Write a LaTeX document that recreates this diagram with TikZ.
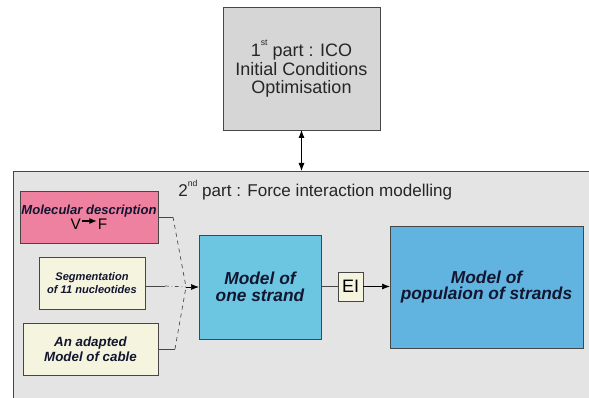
\documentclass[tikz,border=0pt]{standalone}
\usepackage{fontspec}
\setmainfont{Liberation Sans}
\usetikzlibrary{arrows.meta}
\definecolor{topgray}{RGB}{214,214,214}
\definecolor{contgray}{RGB}{228,228,228}
\definecolor{pinkbox}{RGB}{238,128,160}
\definecolor{creambox}{RGB}{245,244,222}
\definecolor{bluebox}{RGB}{108,198,226}
\definecolor{popblue}{RGB}{98,180,224}
\definecolor{navytext}{RGB}{18,22,48}
\definecolor{edge}{RGB}{70,70,70}
\newcommand\supx[1]{\raisebox{0.62em}{\fontsize{6.5}{6.5}\selectfont #1}}
\newcommand\vfarrow{\raisebox{0.33em}{\tikz[x=1pt,y=1pt]\draw[line width=0.8pt,-{Latex[length=5.5pt,width=4.5pt]}] (0,0) -- (11,0);}}
\tikzset{
  box/.style={draw=edge, line width=0.7pt, inner sep=0pt, outer sep=0pt, align=center},
  conn/.style={draw=edge, line width=0.5pt},
  tip/.style={-{Latex[length=6pt,width=4.5pt]}},
  bi/.style={font=\bfseries\itshape, text=navytext},
}
\begin{document}
\begin{tikzpicture}[x=0.75pt,y=-0.75pt]
\useasboundingbox (0,0) rectangle (589,398);
\fill[white] (0,0) rectangle (589,398);
\begin{scope}
\clip (0,0) rectangle (589,398);
\node[box, fill=contgray, minimum width=440.25pt, minimum height=179.25pt] (part2) at (306.5,290.5) {};
\end{scope}
\node[anchor=base west, inner sep=0pt, font=\fontsize{12.8}{14}\selectfont, text=black!85] (title2) at (178,197) {2\supx{nd} part : Force interaction modelling};

\node[box, fill=topgray, minimum width=117.75pt, minimum height=92.25pt, font=\fontsize{13.5}{14}\selectfont, text=black!85] (part1) at (301.5,68.5)
  {1\supx{st} part : ICO\\Initial Conditions\\Optimisation};

\draw[conn, draw=black, line width=0.6pt, {Latex[length=6pt,width=4.5pt]}-{Latex[length=6pt,width=4.5pt]}] (part1.south) -- (part1.south |- part2.north);

\node[box, fill=pinkbox, minimum width=103.5pt, minimum height=39pt] (mol) at (89,217)
  {{\bfseries\itshape\fontsize{9.8}{11}\selectfont\color{navytext} Molecular description}\\[-1pt]
   {\fontsize{11.5}{12}\selectfont V\kern0.5pt\vfarrow\kern0.5pt F}};
\node[box, fill=creambox, minimum width=79.5pt, minimum height=39pt, bi, font=\bfseries\itshape\fontsize{8.3}{10}\selectfont] (seg) at (92,283)
  {Segmentation\\of 11 nucleotides};
\node[box, fill=creambox, minimum width=101.25pt, minimum height=39pt, bi, font=\bfseries\itshape\fontsize{10}{11.5}\selectfont] (cable) at (90.5,349)
  {An adapted\\Model of cable};

\node[box, fill=bluebox, minimum width=91.5pt, minimum height=78pt, bi, font=\bfseries\itshape\fontsize{13}{12.5}\selectfont] (strand) at (260,287)
  {Model of\\one strand};
\node[box, fill=creambox, minimum width=18.75pt, minimum height=21.75pt, font=\fontsize{13.5}{14}\selectfont] (ei) at (350.5,286.5) {EI};
\node[box, fill=popblue, minimum width=144.75pt, minimum height=91.5pt, bi, font=\bfseries\itshape\fontsize{13}{12.5}\selectfont] (pop) at (486.5,287)
  {Model of\\populaion of strands};

\coordinate (j) at (186,287);
\coordinate (ma) at (173,217);
\coordinate (sa) at (165,286);
\coordinate (ca) at (175,349);
\draw[conn] (mol.east) -- (ma);
\draw[conn, dashed] (ma) -- (j);
\draw[conn] (seg.east |- sa) -- (sa);
\draw[conn, dash dot] (sa) -- (j);
\draw[conn] (cable.east) -- (ca);
\draw[conn, dashed] (ca) -- (j);
\draw[conn, draw=black, tip] (j) -- (strand.west);

\draw[conn] (strand.east |- ei.west) -- (ei.west);
\draw[conn, draw=black, tip] (ei.east) -- (pop.west |- ei.east);
\end{tikzpicture}
\end{document}
